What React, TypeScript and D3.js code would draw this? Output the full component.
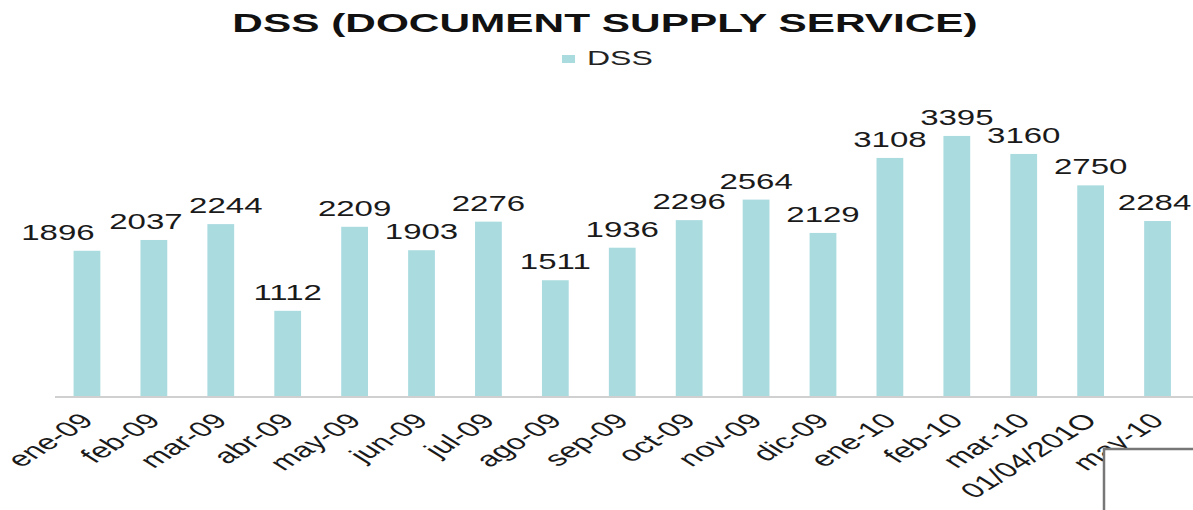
import React, { useRef, useEffect } from "react";
import * as d3 from "d3";

// categories and values
const months = [
  "ene-09", "feb-09", "mar-09", "abr-09", "may-09", "jun-09", "jul-09", "ago-09",
  "sep-09", "oct-09", "nov-09", "dic-09", "ene-10", "feb-10", "mar-10", "01/04/201O", "may-10",
];
const dssValues = [
  1896, 2037, 2244, 1112, 2209, 1903, 2276, 1511, 1936, 2296, 2564, 2129, 3108, 3395, 3160, 2750, 2284,
];
const seriesName = "DSS";
const chartTitle = "DSS (DOCUMENT SUPPLY SERVICE)";

export default function App() {
  const ref = useRef<SVGSVGElement>(null);

  useEffect(() => {
    const width = 1193;
    const baseY = 396;
    const stretch = 1.5; // the source picture is stretched sideways
    const barColor = "#a9dbdf";
    const font = "Liberation Sans, Arial, sans-serif";

    const svg = d3.select(ref.current);
    svg.selectAll("*").remove();

    // title
    svg
      .append("text")
      .attr("transform", `translate(605,32) scale(1.63,1)`)
      .attr("text-anchor", "middle")
      .attr("font-family", font)
      .attr("font-weight", "bold")
      .attr("font-size", 26)
      .attr("fill", "#111")
      .text(chartTitle);

    // legend
    svg
      .append("rect")
      .attr("x", 562)
      .attr("y", 55)
      .attr("width", 13)
      .attr("height", 8)
      .attr("fill", barColor);
    svg
      .append("text")
      .attr("transform", `translate(587,65) scale(1.6,1)`)
      .attr("font-family", font)
      .attr("font-size", 20)
      .attr("fill", "#222")
      .text(seriesName);

    const x = d3
      .scaleBand()
      .domain(months)
      .range([53.5, 1191])
      .paddingInner(0.6)
      .paddingOuter(0.3);
    const y = d3.scaleLinear().domain([0, 5170]).range([baseY, 0]);

    // bars
    svg
      .selectAll("rect.bar")
      .data(dssValues)
      .enter()
      .append("rect")
      .attr("class", "bar")
      .attr("x", (d, i) => x(months[i])!)
      .attr("y", (d) => y(d))
      .attr("width", x.bandwidth())
      .attr("height", (d) => baseY - y(d))
      .attr("fill", barColor);

    // axis line
    svg
      .append("line")
      .attr("x1", 55)
      .attr("x2", width)
      .attr("y1", baseY + 1)
      .attr("y2", baseY + 1)
      .attr("stroke", "#d0d0d0")
      .attr("stroke-width", 2);

    // value labels (a few nudged like the original)
    const nudge = (i: number) =>
      i === 0 ? -29 : i === 1 ? -8 : i === 2 ? 5 : i === months.length - 1 ? -3 : 0;
    svg
      .selectAll("text.val")
      .data(dssValues)
      .enter()
      .append("text")
      .attr("class", "val")
      .attr("transform", (d, i) => {
        const cx = x(months[i])! + x.bandwidth() / 2 + nudge(i);
        return `translate(${cx},${y(d) - 11}) scale(${stretch},1)`;
      })
      .attr("text-anchor", "middle")
      .attr("font-family", font)
      .attr("font-size", 22)
      .attr("fill", "#1a1a1a")
      .text((d) => d);

    // category labels, rotated then stretched
    svg
      .selectAll("text.cat")
      .data(months)
      .enter()
      .append("text")
      .attr("class", "cat")
      .attr("text-anchor", "end")
      .attr("transform", (d) => {
        const cx = x(d)! + x.bandwidth() / 2 + 8;
        return `translate(${cx},${baseY + 26}) scale(1.6,1) rotate(-45)`;
      })
      .attr("font-family", font)
      .attr("font-size", 21)
      .attr("fill", "#1a1a1a")
      .text((d) => d);

    // box in the lower right corner
    svg
      .append("rect")
      .attr("x", 1104)
      .attr("y", 449)
      .attr("width", 100)
      .attr("height", 70)
      .attr("fill", "#fff")
      .attr("stroke", "#777")
      .attr("stroke-width", 2.5);
  }, []);

  return (
    <svg
      ref={ref}
      width={1193}
      height={510}
      style={{ position: "absolute", left: 0, top: 0, background: "#fff" }}
    />
  );
}
